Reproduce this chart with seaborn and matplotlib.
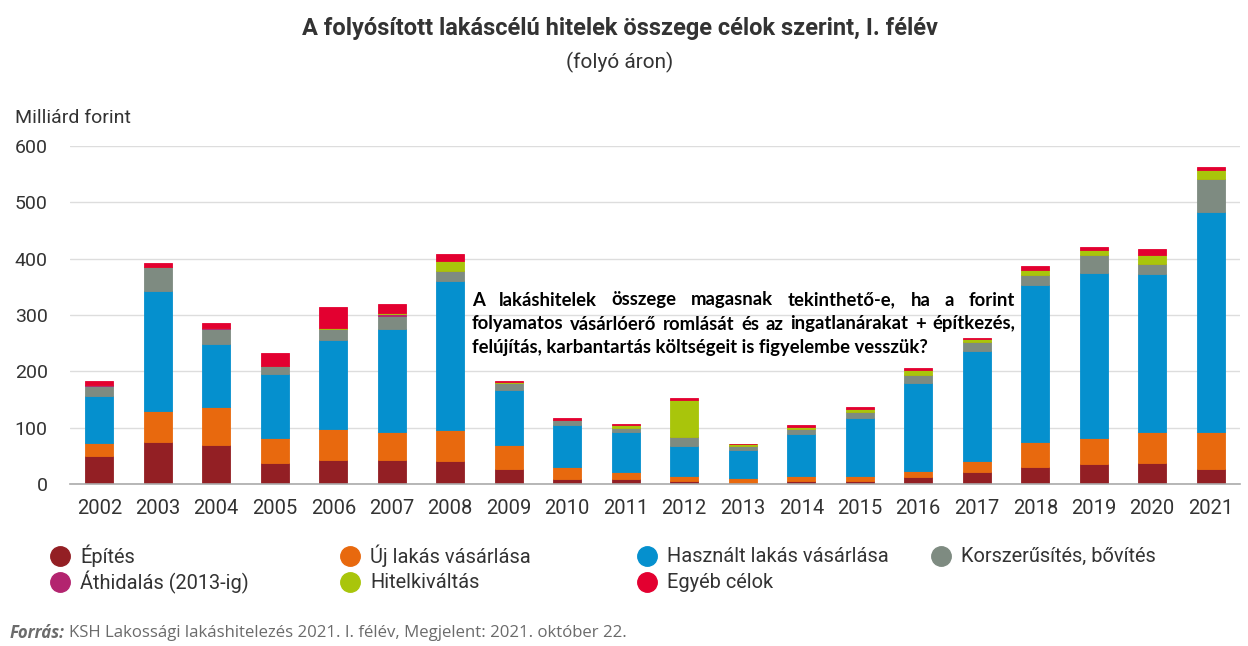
import numpy as np
import matplotlib
matplotlib.use("Agg")
import matplotlib.pyplot as plt
from matplotlib.lines import Line2D
import seaborn as sns

# Data (milliárd forint, I. félév)
years = [str(y) for y in range(2002, 2022)]
epites = [49, 75, 70, 38, 43, 43, 40, 27, 8, 8, 6, 2, 6, 6, 12, 22, 30, 35, 38, 27]
uj_lakas = [24, 54, 67, 43, 54, 49, 56, 43, 22, 14, 8, 9, 8, 8, 11, 19, 45, 46, 54, 65]
hasznalt = [83, 214, 112, 114, 158, 184, 264, 97, 75, 70, 54, 50, 75, 104, 157, 195, 278, 293, 280, 391]
korszerusites = [18, 42, 27, 14, 20, 23, 18, 12, 8, 7, 15, 7, 8, 10, 13, 16, 18, 32, 19, 58]
athidalas = [1, 0, 0.5, 1, 0.5, 2, 0.5, 0.5, 0, 0, 0, 0, 0, 0, 0, 0, 0, 0, 0, 0]
hitelkivaltas = [0, 0, 1, 0, 1, 3, 18, 1, 0, 6, 67, 3, 5, 6, 10, 5, 8, 10, 15, 16]
egyeb = [8, 8, 8, 23, 38, 15, 12, 2, 5, 2, 3, 0, 3, 2, 3, 2, 8, 5, 11, 5]

series = [
    ("Építés", epites, "#931F24"),
    ("Új lakás vásárlása", uj_lakas, "#E8690E"),
    ("Használt lakás vásárlása", hasznalt, "#0590CE"),
    ("Korszerűsítés, bővítés", korszerusites, "#7E8B81"),
    ("Áthidalás (2013-ig)", athidalas, "#B3246F"),
    ("Hitelkiváltás", hitelkivaltas, "#A9C50B"),
    ("Egyéb célok", egyeb, "#E30030"),
]

sns.set_style("white")
plt.rcParams["font.family"] = ["Roboto", "DejaVu Sans"]
text_col = "#333333"

fig = plt.figure(figsize=(12.48, 6.46), dpi=100)
ax = fig.add_axes([70 / 1248, 1 - 484 / 646, 1170 / 1248, 338 / 646])

bottom = np.zeros(len(years))
for name, vals, col in series:
    sns.barplot(x=years, y=vals, bottom=bottom, color=col, width=0.48,
                errorbar=None, ax=ax, linewidth=0.6, edgecolor=col, saturation=1)
    bottom += np.array(vals)

ax.set_xlim(-0.5, len(years) - 0.5)
ax.set_ylim(0, 600)
ax.set_yticks(range(0, 601, 100))
ax.yaxis.grid(True, color="#dddddd", linewidth=1)
ax.set_axisbelow(True)
for s in ["top", "right", "left"]:
    ax.spines[s].set_visible(False)
ax.spines["bottom"].set_color("#aaaaaa")
ax.spines["bottom"].set_linewidth(1.2)
ax.tick_params(axis="y", length=0, pad=16, labelsize=14, labelcolor=text_col)
ax.tick_params(axis="x", which="major", length=0, pad=11, labelsize=14.5, labelcolor=text_col)
ax.set_xticks(np.arange(-0.5, len(years), 1), minor=True)
ax.tick_params(axis="x", which="minor", length=10, color="#aaaaaa", width=1)
ax.set_xlabel("")
ax.set_ylabel("")

# titles
fig.text(620 / 1248, 1 - 28 / 646, "A folyósított lakáscélú hitelek összege célok szerint, I. félév",
         ha="center", va="center", fontsize=17, fontweight="bold", color=text_col)
fig.text(620 / 1248, 1 - 62 / 646, "(folyó áron)", ha="center", va="center",
         fontsize=15, color=text_col)
fig.text(15 / 1248, 1 - 118 / 646, "Milliárd forint", ha="left", va="center",
         fontsize=14, color=text_col)

# justified annotation inside the plot
note_lines = [
    "A lakáshitelek összege magasnak tekinthető-e, ha a forint",
    "folyamatos vásárlóerő romlását és az ingatlanárakat + építkezés,",
    "felújítás, karbantartás költségeit is figyelembe vesszük?",
]
x_left, x_right = 472, 1015
line_y = [300, 324, 347]
renderer = fig.canvas.get_renderer()
note_kw = dict(fontsize=13.3, fontweight="bold", color="black", va="center",
               ha="left", family=["Lato", "DejaVu Sans"])
for i, (line, yy) in enumerate(zip(note_lines, line_y)):
    words = line.split(" ")
    if i == len(note_lines) - 1:
        fig.text(x_left / 1248, 1 - yy / 646, line, **note_kw)
        continue
    texts = [fig.text(0, 1 - yy / 646, w, **note_kw) for w in words]
    widths = [t.get_window_extent(renderer).width for t in texts]
    gap = (x_right - x_left - sum(widths)) / (len(words) - 1)
    x = x_left
    for t, w in zip(texts, widths):
        t.set_x(x / 1248)
        x += w + gap

# legend, laid out in fixed columns
col_x = [60, 350, 647, 941]
row_y = [556, 582]
for k, (name, vals, col) in enumerate(series):
    cx = col_x[k % 4]
    cy = row_y[k // 4]
    fig.add_artist(Line2D([cx / 1248], [1 - cy / 646], marker="o", markersize=14,
                          color=col, linestyle="none", transform=fig.transFigure))
    fig.text((cx + 20) / 1248, 1 - cy / 646, name, ha="left", va="center",
             fontsize=14.4, color=text_col)

# source
src_kw = dict(fontsize=12.1, color="#6b6b6b", va="center", family=["Open Sans", "DejaVu Sans"])
t = fig.text(10 / 1248, 1 - 633 / 646, "Forrás:", fontweight="bold", style="italic", ha="left", **src_kw)
w = t.get_window_extent(renderer).width
fig.text((10 + w + 4) / 1248, 1 - 633 / 646,
         "KSH Lakossági lakáshitelezés 2021. I. félév, Megjelent: 2021. október 22.",
         ha="left", **src_kw)

fig.savefig("out.png", dpi=100)
